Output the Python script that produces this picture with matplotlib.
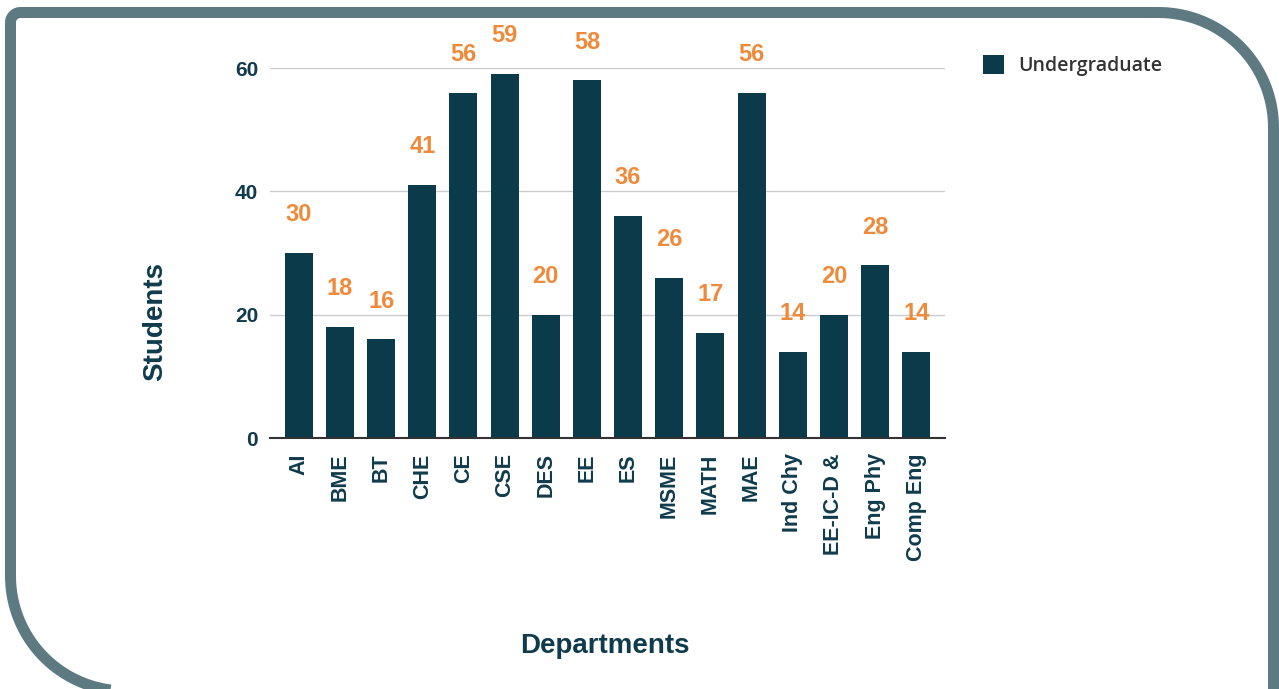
import numpy as np
import matplotlib
matplotlib.use("Agg")
import matplotlib.pyplot as plt
from matplotlib.path import Path
from matplotlib.patches import PathPatch
from matplotlib.transforms import IdentityTransform

departments = ["AI", "BME", "BT", "CHE", "CE", "CSE", "DES", "EE", "ES", "MSME",
               "MATH", "MAE", "Ind Chy", "EE-IC-D &", "Eng Phy", "Comp Eng"]
undergrad = [30, 18, 16, 41, 56, 59, 20, 58, 36, 26, 17, 56, 14, 20, 28, 14]
yticks = [0, 20, 40, 60]

bar_col = "#0b3a4b"
txt_col = "#0f3b4c"
lab_col = "#f08a3b"
frame_col = "#5d7a83"

plt.rcParams['font.family'] = ['Liberation Sans', 'DejaVu Sans']

fig = plt.figure(figsize=(12.79, 6.89), dpi=100)
ax = fig.add_axes([270 / 1279, 251 / 689, 675 / 1279, 370 / 689])

x = np.arange(len(departments))
ax.bar(x, undergrad, width=0.68, color=bar_col, label="Undergraduate", zorder=3)
for xi, v in zip(x, undergrad):
    ax.text(xi, v + 6.2, str(v), ha="center", va="center", color=lab_col,
            fontsize=17, fontweight="bold", zorder=4)

ax.set_xlim(-0.7, len(departments) - 0.3)
ax.set_ylim(0, 60)
ax.set_yticks(yticks)
ax.set_xticks(x)
ax.set_xticklabels(departments, rotation=90, fontsize=15.5, fontweight="bold", color=txt_col)
ax.tick_params(axis="y", length=0, pad=8.5, labelsize=15, labelcolor=txt_col)
for lab in ax.get_yticklabels():
    lab.set_fontweight("bold")
ax.tick_params(axis="x", length=0, pad=11)
ax.grid(axis="y", color="#cccccc", linewidth=1, zorder=0)
for s in ["top", "right", "left"]:
    ax.spines[s].set_visible(False)
ax.spines["bottom"].set_color("#333333")
ax.spines["bottom"].set_linewidth(1.5)
ax.spines["bottom"].set_zorder(5)

ax.set_ylabel("Students", fontsize=20, fontweight="bold", color=txt_col)
ax.yaxis.set_label_coords(-0.151, 0.314)
ax.set_xlabel("Departments", fontsize=20, fontweight="bold", color=txt_col)
ax.xaxis.set_label_coords(0.496, -0.527)

leg = ax.legend(loc="upper left", bbox_to_anchor=(983 / 1279, 1 - 55 / 689),
                bbox_transform=fig.transFigure, frameon=False, handlelength=1.1,
                handleheight=1.1, handletextpad=0.7, borderpad=0, borderaxespad=0,
                prop={"family": "Open Sans", "size": 14, "weight": "semibold"})
for t in leg.get_texts():
    t.set_color("#333333")

# rounded frame around the card, in pixel coords (y up)
H = 689
def arc(cx, cy, r, a0, a1, n=40):
    a = np.radians(np.linspace(a0, a1, n))
    return list(zip(cx + r * np.cos(a), cy + r * np.sin(a)))

L, R, T, B = 10.5, 1273.5, H - 12.5, -2
r_small, r_big = 10, 115
pts = []
pts += arc(L + r_small, T - r_small, r_small, 180, 90)
pts += arc(R - r_big, T - r_big, r_big, 90, 0)
pts += [(R, B)]
pts += arc(L + r_big, B + r_big, r_big, 270, 180)
pts += [pts[0]]
frame = PathPatch(Path(pts), facecolor="none", edgecolor=frame_col,
                  linewidth=11 * 72 / 100, transform=IdentityTransform(), joinstyle="miter")
fig.add_artist(frame)

fig.savefig("out.png", dpi=100)
